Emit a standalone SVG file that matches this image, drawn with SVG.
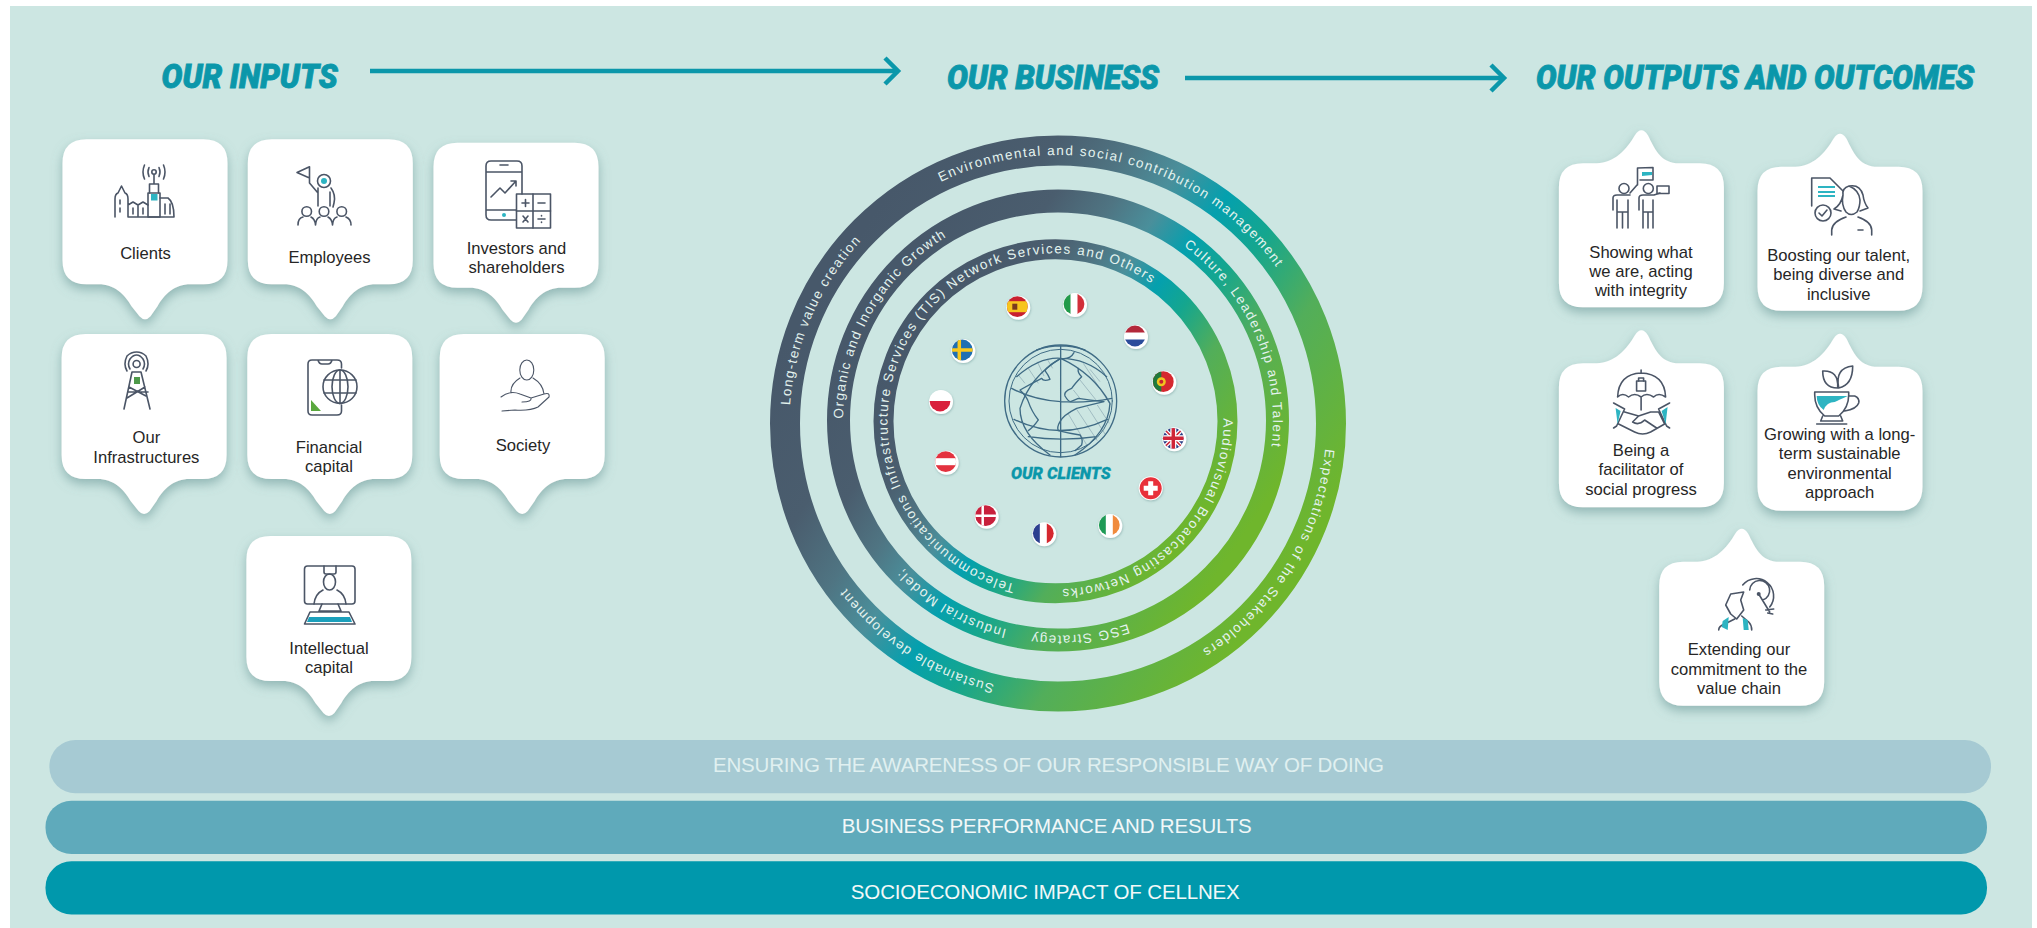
<svg xmlns="http://www.w3.org/2000/svg" width="2037" height="928" viewBox="0 0 2037 928">
<style>
.hd{font-family:"Roboto","Liberation Sans",sans-serif;font-weight:900;font-style:italic;fill:#0b97aa;stroke:#0b97aa;stroke-width:.9}
.hs{stroke-width:.3}
.t{font-family:"Liberation Sans",Arial,sans-serif;font-size:16.6px;fill:#262626;text-anchor:middle}
.b{font-family:"Liberation Sans",Arial,sans-serif;font-size:20.5px;text-anchor:middle}
.r{font-family:"Liberation Sans",Arial,sans-serif;font-size:13.5px;fill:#e4f3ef}
.card{fill:#fff;filter:url(#sh)}
.ic{fill:none;stroke:#4b5566;stroke-width:1.6;stroke-linecap:round;stroke-linejoin:round}
.thin{stroke-width:1.1}
.ac{fill:#2db4c2;stroke:none}
.ring{fill:none;stroke:url(#rg)}
.arrow{fill:none;stroke:#0b97aa;stroke-width:4.5;marker-end:url(#chev)}
.gl{fill:none;stroke:#3f6b85;stroke-width:4;stroke-linecap:round;stroke-linejoin:round}
.gh{fill:none;stroke:#8fabb5;stroke-width:2.2}
.fb{fill:#fff;filter:url(#fs)}
</style>
<defs>
<filter id="sh" x="-20%" y="-20%" width="140%" height="145%"><feDropShadow dx="0" dy="5" stdDeviation="5.5" flood-color="#5f8f8e" flood-opacity=".55"/></filter>
<filter id="fs" x="-40%" y="-40%" width="180%" height="180%"><feDropShadow dx="0.5" dy="1" stdDeviation="1" flood-color="#5f8f8e" flood-opacity=".5"/></filter>
<linearGradient id="rg" x1=".09" y1=".22" x2=".91" y2=".78">
<stop offset="0" stop-color="#47586a"/><stop offset=".2" stop-color="#4a5d6e"/><stop offset=".32" stop-color="#4f7482"/><stop offset=".42" stop-color="#4a8f9b"/><stop offset=".52" stop-color="#04a0ae"/><stop offset=".62" stop-color="#15a68e"/><stop offset=".76" stop-color="#52ae5a"/><stop offset="1" stop-color="#6fb62c"/>
</linearGradient>
<marker id="chev" markerUnits="userSpaceOnUse" markerWidth="24" markerHeight="34" refX="18" refY="16" orient="auto" viewBox="0 0 24 32"><path d="M5 3 L18 16 L5 29" fill="none" stroke="#0b97aa" stroke-width="4.5"/></marker>
<path id="cd" d="M24 0H141Q165 0 165 24V121Q165 145 141 145H128C112 145 102 155 95 167L88 177Q82.5 183 77 177L69 167C62 155 52 145 36 145H24Q0 145 0 121V24Q0 0 24 0Z"/>
<path id="cu" d="M24 0H38C55 0 68-14 76-28Q82.500-38 89-28C96-14 101-2 117 0H141Q165 0 165 24V120Q165 144 141 144H24Q0 144 0 120V24Q0 0 24 0Z"/>
<path id="ro" d="M1058 155A268.5 268.5 0 1 1 1058 692A268.5 268.5 0 1 1 1058 155"/>
<path id="rm" d="M1058 205.5A215 215 0 1 1 1058 635.5A215 215 0 1 1 1058 205.5"/>
<path id="ri" d="M1055.5 253.3A168 168 0 1 1 1055.5 589.3A168 168 0 1 1 1055.5 253.3"/>
<clipPath id="fc"><circle r="10.4"/></clipPath>
</defs>
<rect width="2037" height="928" fill="#fff"/>
<rect x="10" y="6" width="2022" height="922" fill="#cce6e2"/>

<g id="headings">
<text class="hd" x="161.6" y="87.7" font-size="33" textLength="176" lengthAdjust="spacingAndGlyphs">OUR INPUTS</text>
<text class="hd" x="947" y="89" font-size="33" textLength="212" lengthAdjust="spacingAndGlyphs">OUR BUSINESS</text>
<text class="hd" x="1536" y="89" font-size="33" textLength="438" lengthAdjust="spacingAndGlyphs">OUR OUTPUTS AND OUTCOMES</text>
</g>
<g id="connectors">
<line class="arrow" x1="370" y1="71" x2="898" y2="71"/>
<line class="arrow" x1="1185" y1="78" x2="1504" y2="78"/>
</g>

<g id="node-clients"><use class="card" href="#cd" x="62.5" y="139.3"/>
<g class="ic"><circle cx="154" cy="172" r="2.2"/><path d="M149 167.500Q147 172 149 176.500M159 167.500Q161 172 159 176.500M144.500 165Q141.500 172 144.500 179M163.500 165Q166.500 172 163.500 179M154 175V184M149.500 193V184H158.500V193"/><rect x="148" y="193" width="12" height="24"/><path d="M160 198H168Q174 202 174 217M115 217V199Q115 194 118 193L121.500 186L125 193Q128 194 128 199V217M128 217V205L133 202L138 205V217M138 217V205L143 202L148 205M128 217H174M120 200V204M120 208V212M133 208V214M143 208V214M165 204V214M170 204V214"/></g><rect class="ac" x="151" y="194" width="6.500" height="6.500"/>
<text class="t" x="145.500" y="258.700">Clients</text></g>

<g id="node-employees"><use class="card" href="#cd" x="247.800" y="139.300"/>
<g class="ic"><path d="M309.500 166.700L297 172.500L309.500 178ZM309.500 167V183L318 193V206M331 188Q336 195 334 203L333 207M330 192V206M318 193V188"/><circle cx="324" cy="181" r="6.500"/><circle cx="306.700" cy="211.500" r="4.800"/><circle cx="324" cy="211.500" r="4.800"/><circle cx="341.700" cy="211.500" r="4.800"/><path d="M298 225Q298 218 303 217M311 217Q315 219 315.500 225M315.500 225Q316 218 320 217M328 217Q332 219 332.500 225M332.500 225Q333 218 337 217M346 217Q351 219 351 225"/></g><circle class="ac" cx="324" cy="181" r="3"/>
<text class="t" x="329.500" y="263">Employees</text></g>

<g id="node-investors"><use class="card" href="#cd" x="433.500" y="142.700"/>
<g class="ic"><path d="M516 220H491Q486 220 486 215V166Q486 161 491 161H517Q522 161 522 166V194M486 172H522M486 210H516M500 165H508M491 197L500 188L505 193L516 181M511 181H516V186"/><rect x="516.500" y="194" width="34" height="34"/><path d="M533 194V228M516.500 211H550.500M522 203H529M525.500 199.500V206.500M538 203H545M523 216L528 222M528 216L523 222M538 219H545M541.500 215.500V216M541.500 222V222.500"/></g><circle class="ac" cx="504" cy="215" r="2"/>
<text class="t" x="516.500" y="254">Investors and</text><text class="t" x="516.500" y="273.300">shareholders</text></g>

<g id="node-infrastructures"><use class="card" href="#cd" x="61.600" y="334"/>
<g class="ic"><circle cx="136.600" cy="364" r="3.500"/><path d="M130 369Q127 364 130 359Q133 355 136.600 355Q140 355 143 359Q146 364 143 369M127 371Q123 364 127 356Q131 352 136.600 352Q142 352 146 356Q150 364 146 371M132 372L124 409M141 372L150 409M132 372H141M129 387L146 396M145 387L127 398M128 392H148"/></g><rect x="134" y="377" width="6" height="7" fill="#4e9a4a"/>
<text class="t" x="146.400" y="443.300">Our</text><text class="t" x="146.400" y="462.700">Infrastructures</text></g>

<g id="node-financial"><use class="card" href="#cd" x="247.300" y="334"/>
<g class="ic"><path d="M341.500 368V364Q341.500 360 337 360H312Q308 360 308 364V411Q308 415 312 415H337Q341.500 415 341.500 411V405M318 360Q319 364 322 364H328Q331 364 332 360"/><ellipse cx="340" cy="386.700" rx="17" ry="16.700"/><ellipse cx="340" cy="386.700" rx="8" ry="16.700"/><path d="M340 370V403.400M324 380H356M324 393H356"/></g><path d="M311 400L321 411H311Z" fill="#5aa83e"/>
<text class="t" x="329" y="453.300">Financial</text><text class="t" x="329" y="472.300">capital</text></g>

<g id="node-society"><use class="card" href="#cd" x="439.700" y="334"/>
<g class="ic thin"><ellipse cx="526.800" cy="370" rx="7" ry="10"/><path d="M520 378Q510 384 511 393M533 378Q543 384 544 394M501 397Q510 390 520 394L531 398Q532 402 522 402M531 398L544 394Q550 392 549 397L538 407Q530 411 515 410L502 411"/></g>
<text class="t" x="523" y="451.300">Society</text></g>

<g id="node-intellectual"><use class="card" href="#cd" x="246.400" y="536"/>
<g class="ic"><rect x="304.500" y="566" width="50.500" height="38" rx="3"/><path d="M324 566V572Q324 574 326 574H334Q336 574 336 572V566M314 604Q315 594 323 590M337 590Q345 594 346 604M322 604L319 611H341L338 604M310 612H349L355 624H304.500Z"/><ellipse cx="329.500" cy="582" rx="6" ry="8"/></g><path d="M309 617H350L352 622H307Z" fill="#1ba0bc"/>
<text class="t" x="329" y="654">Intellectual</text><text class="t" x="329" y="673.300">capital</text></g>

<g id="business">
<circle class="ring" cx="1058" cy="423.500" r="273" stroke-width="30"/>
<circle class="ring" cx="1058" cy="420.500" r="219.500" stroke-width="23"/>
<circle class="ring" cx="1055.500" cy="421.300" r="172" stroke-width="20"/>
<text class="r" transform="rotate(273.900 1058 423.500)"><textPath href="#ro" textLength="182">Long-term value creation</textPath></text>
<text class="r" transform="rotate(334.100 1058 423.500)"><textPath href="#ro" textLength="376">Environmental and social contribution management</textPath></text>
<text class="r" transform="rotate(95.400 1058 423.500)"><textPath href="#ro" textLength="244">Expectations of the Stakeholders</textPath></text>
<text class="r" transform="rotate(193.700 1058 423.500)"><textPath href="#ro" textLength="180">Sustainable development</textPath></text>
<text class="r" transform="rotate(270.500 1058 420.500)"><textPath href="#rm" textLength="218">Organic and Inorganic Growth</textPath></text>
<text class="r" transform="rotate(35.800 1058 420.500)"><textPath href="#rm" textLength="229">Culture, Leadership and Talent</textPath></text>
<text class="r" transform="rotate(161.100 1058 420.500)"><textPath href="#rm" textLength="97">ESG Strategy</textPath></text>
<text class="r" transform="rotate(193.800 1058 420.500)"><textPath href="#rm" textLength="122">Industrial Model;</textPath></text>
<text class="r" transform="rotate(247 1055.500 421.300)"><textPath href="#ri" textLength="433">Infrastructure Services (TIS) Network Services and Others</textPath></text>
<text class="r" transform="rotate(89 1055.500 421.300)"><textPath href="#ri" textLength="260">Audiovisual Broadcasting Networks</textPath></text>
<text class="r" transform="rotate(194 1055.500 421.300)"><textPath href="#ri" textLength="147">Telecommunications</textPath></text>
</g>

<g id="globe">
<g transform="translate(1000 340) scale(.3333)">
<g class="gh"><path d="M55 105L75 130M85 85L115 130M112 65L132 108M142 58L158 85M250 70L332 195M240 120L288 180M220 150L240 175M205 222L262 318M230 208L292 302M262 200L315 282M292 195L328 250M270 88L300 125"/></g>
<g class="gl"><circle cx="182" cy="183" r="168"/><circle cx="182" cy="183" r="155" stroke-width="3"/>
<path d="M182 18V350M182 55Q90 110 60 205Q60 280 150 345M182 55Q280 100 330 190Q325 280 225 345M50 110Q120 50 182 55Q260 55 320 110M35 145Q100 180 182 185Q260 190 335 175M42 238Q180 305 322 238M85 290Q182 305 290 290M110 30Q182 5 255 30"/>
<path d="M182 55Q140 80 135 92Q145 105 150 118Q130 125 125 115Q95 130 60 150Q80 170 85 185Q95 215 115 240Q100 262 85 272M222 38Q210 60 182 55M235 85Q232 98 245 110Q225 130 215 145Q190 155 195 168Q205 185 212 185L235 175Q270 180 312 185Q270 195 230 205Q190 225 180 245Q170 262 175 272Q205 280 240 285Q250 300 245 315L225 332"/></g>
</g>
<text class="hd hs" x="1011" y="479.300" font-size="16.500" textLength="99.700" lengthAdjust="spacingAndGlyphs">OUR CLIENTS</text>
</g>

<g id="flags">
<g id="flag-spain" transform="translate(1017.300 306.700)"><circle class="fb" cx="1" cy="1" r="12"/><g clip-path="url(#fc)"><rect x="-11" y="-11" width="22" height="22" fill="#c8202f"/><rect x="-11" y="-5.500" width="22" height="11" fill="#f7c51e"/><rect x="-5" y="-3" width="5" height="6" fill="#7a3a1e"/></g></g>
<g id="flag-italy" transform="translate(1074 304)"><circle class="fb" cx="1" cy="1" r="12"/><g clip-path="url(#fc)"><rect x="-11" y="-11" width="22" height="22" fill="#fff"/><rect x="-11" y="-11" width="7.500" height="22" fill="#229a4a"/><rect x="3.500" y="-11" width="7.500" height="22" fill="#d22f3a"/></g></g>
<g id="flag-netherlands" transform="translate(1135 336)"><circle class="fb" cx="1" cy="1" r="12"/><g clip-path="url(#fc)"><rect x="-11" y="-11" width="22" height="22" fill="#fff"/><rect x="-11" y="-11" width="22" height="7.500" fill="#b3283a"/><rect x="-11" y="3.500" width="22" height="7.500" fill="#2b4c9b"/></g></g>
<g id="flag-portugal" transform="translate(1163.300 381.700)"><circle class="fb" cx="1" cy="1" r="12"/><g clip-path="url(#fc)"><rect x="-11" y="-11" width="22" height="22" fill="#d5282f"/><rect x="-11" y="-11" width="9" height="22" fill="#1f7a3c"/><circle cx="-2" cy="0" r="4.500" fill="#f0c51f"/><circle cx="-2" cy="0" r="2" fill="#c8202f"/></g></g>
<g id="flag-uk" transform="translate(1173.300 438.300)"><circle class="fb" cx="1" cy="1" r="12"/><g clip-path="url(#fc)"><rect x="-11" y="-11" width="22" height="22" fill="#2b3f86"/><path d="M-11-11L11 11M11-11L-11 11" stroke="#fff" stroke-width="4"/><path d="M-11-11L11 11M11-11L-11 11" stroke="#cf2438" stroke-width="1.500"/><path d="M0-11V11M-11 0H11" stroke="#fff" stroke-width="6"/><path d="M0-11V11M-11 0H11" stroke="#cf2438" stroke-width="3.500"/></g></g>
<g id="flag-switzerland" transform="translate(1150.700 488.300)"><circle class="fb" cx="0" cy="0" r="12"/><circle r="11" fill="#e8303a"/><path d="M-2.500-7H2.500V-2.500H7V2.500H2.500V7H-2.500V2.500H-7V-2.500H-2.500Z" fill="#fff"/></g>
<g id="flag-ireland" transform="translate(1109.300 525)"><circle class="fb" cx="1" cy="1" r="12"/><g clip-path="url(#fc)"><rect x="-11" y="-11" width="22" height="22" fill="#fff"/><rect x="-11" y="-11" width="7.500" height="22" fill="#1f9a56"/><rect x="3.500" y="-11" width="7.500" height="22" fill="#f08a3c"/></g></g>
<g id="flag-france" transform="translate(1043.300 533.300)"><circle class="fb" cx="1" cy="1" r="12"/><g clip-path="url(#fc)"><rect x="-11" y="-11" width="22" height="22" fill="#fff"/><rect x="-11" y="-11" width="7.500" height="22" fill="#2b3f8f"/><rect x="3.500" y="-11" width="7.500" height="22" fill="#d5282f"/></g></g>
<g id="flag-denmark" transform="translate(985.700 515.700)"><circle class="fb" cx="1" cy="1" r="12"/><g clip-path="url(#fc)"><rect x="-11" y="-11" width="22" height="22" fill="#c8203c"/><path d="M-3-11V11M-11 0H11" stroke="#fff" stroke-width="2.500"/></g></g>
<g id="flag-austria" transform="translate(945.700 461.700)"><circle class="fb" cx="1" cy="1" r="12"/><g clip-path="url(#fc)"><rect x="-11" y="-11" width="22" height="22" fill="#e3323f"/><rect x="-11" y="-3.500" width="22" height="7" fill="#fff"/></g></g>
<g id="flag-poland" transform="translate(940 401)"><circle class="fb" cx="1" cy="1" r="12"/><g clip-path="url(#fc)"><rect x="-11" y="-11" width="22" height="11" fill="#fff"/><rect x="-11" y="0" width="22" height="11" fill="#d9203c"/></g></g>
<g id="flag-sweden" transform="translate(962.300 350)"><circle class="fb" cx="1" cy="1" r="12"/><g clip-path="url(#fc)"><rect x="-11" y="-11" width="22" height="22" fill="#1f6fb2"/><path d="M-3-11V11M-11 0H11" stroke="#f8c81e" stroke-width="3.500"/></g></g>
</g>

<g id="node-showing"><use class="card" href="#cu" x="1558.900" y="163.300"/>
<g class="ic"><circle cx="1624" cy="188.500" r="5"/><circle cx="1648.300" cy="188.500" r="5"/><path d="M1637.500 185V168L1653 167.500V180H1640M1637 185L1630 193M1613 210V198Q1613 195 1617 195H1630M1617 200V228M1622.500 212V228M1628 200V228M1617 212H1628M1639 210V198Q1639 195 1643 195H1654L1660 193M1643 200V228M1648 212V228M1653 200V228M1643 212H1653"/><rect x="1657" y="186" width="12" height="7.500"/></g><path d="M1642 172H1652V175L1642 176Z" class="ac"/>
<text class="t" x="1641" y="257.700">Showing what</text><text class="t" x="1641" y="277.300">we are, acting</text><text class="t" x="1641" y="296.300">with integrity</text></g>

<g id="node-boosting"><use class="card" href="#cu" x="1757.500" y="166.700"/>
<g class="ic"><path d="M1811.700 206V178H1830L1843 191"/><circle cx="1823" cy="213" r="8"/><path d="M1819 213L1822 216L1827 210M1849 186Q1842 188 1843 195Q1841 205 1846 212Q1851 217 1857 212Q1860 207 1860 200Q1859 190 1849 186ZM1849 186Q1860 184 1863 195Q1864 203 1868 208L1860 211M1843 195Q1841 205 1834 209L1841 211M1831.700 235V230Q1832 222 1846 217M1858 217Q1871.700 222 1871.700 230V235M1858 230H1863"/></g><path d="M1818 187H1835M1818 192H1835M1818 196H1835" stroke="#2db4c2" stroke-width="2.200" fill="none"/>
<text class="t" x="1838.700" y="261">Boosting our talent,</text><text class="t" x="1838.700" y="280.300">being diverse and</text><text class="t" x="1838.700" y="299.700">inclusive</text></g>

<g id="node-being"><use class="card" href="#cu" x="1558.900" y="363.300"/>
<g transform="translate(-1.400 0)"><g class="ic"><path d="M1642.500 370V373M1619 397Q1620 374 1642.500 373Q1666 374 1667 397Q1660 392 1655 397Q1648 392 1642.500 397Q1636 392 1630 397Q1624 392 1619 397ZM1642.500 397V410"/><rect x="1638" y="381" width="9" height="10"/><path d="M1640 381V378H1645V381M1615 403L1626 409L1618 426L1615 428M1671 403L1660 409L1668 426L1671 428M1626 412L1640 416L1652 412H1660L1666 424L1652 432Q1644 436 1636 432L1620 424M1640 416L1634 422Q1640 426 1646 420L1658 428"/></g><path d="M1617 408L1622 411L1619 424ZM1669 407L1663 411L1667 424Z" class="ac"/></g>
<text class="t" x="1641" y="456">Being a</text><text class="t" x="1641" y="475.300">facilitator of</text><text class="t" x="1641" y="494.700">social progress</text></g>

<g id="node-growing"><use class="card" href="#cu" x="1757.500" y="366.700"/>
<g transform="translate(-3.300 0)"><g class="ic"><path d="M1841 388Q1826 388 1826 371Q1842 370 1841 388ZM1842 388Q1856 385 1856 366Q1838 368 1842 388M1818 392H1852V395Q1852 408 1842 416H1828Q1818 408 1818 395ZM1852 396H1858Q1863 398 1862 403Q1860 409 1848 411M1826 416L1824 421H1846L1844 416M1820 424H1850"/></g><path d="M1820 396H1851Q1842 400 1838 402Q1830 402 1827 410Q1820 405 1820 396Z" class="ac"/></g>
<text class="t" x="1839.700" y="440">Growing with a long-</text><text class="t" x="1839.700" y="459.300">term sustainable</text><text class="t" x="1839.700" y="479">environmental</text><text class="t" x="1839.700" y="498.300">approach</text></g>

<g id="node-extending"><use class="card" href="#cu" x="1659.200" y="561.700"/>
<g transform="translate(-2.300 0)"><g class="ic"><path d="M1745 585A16 16 0 1 1 1772 607M1752 590A10 10 0 1 1 1765 600M1761 594L1772 612M1768 610L1776 609M1770 613L1775 614M1733 594L1746 592L1743 600L1746 610L1739 619L1733 614L1728 605ZM1737 619L1727 624Q1721 626 1721 630M1744 616L1751 622Q1754 625 1754 630"/></g><circle cx="1761" cy="594" r="2" fill="#4b5566"/><path d="M1724 627L1725 621L1731 617L1730 630ZM1751 630L1750 620L1745 618L1746 630Z" class="ac"/></g>
<text class="t" x="1739" y="655.300">Extending our</text><text class="t" x="1739" y="674.700">commitment to the</text><text class="t" x="1739" y="694">value chain</text></g>

<g id="bars">
<g id="bar-awareness"><rect x="49.400" y="740" width="1941.600" height="53.300" rx="26" fill="#a6cad3"/><text class="b" x="1048.500" y="772.300" fill="#e0f0f0" textLength="671">ENSURING THE AWARENESS OF OUR RESPONSIBLE WAY OF DOING</text></g>
<g id="bar-performance"><rect x="45.500" y="800.700" width="1941.500" height="53.300" rx="26" fill="#5faabb"/><text class="b" x="1046.800" y="833" fill="#f2f8f8" textLength="410">BUSINESS PERFORMANCE AND RESULTS</text></g>
<g id="bar-impact"><rect x="45.500" y="861.300" width="1941.500" height="53.300" rx="26" fill="#0098ac"/><text class="b" x="1045.300" y="899.300" fill="#f2f8f8" textLength="389">SOCIOECONOMIC IMPACT OF CELLNEX</text></g>
</g>
</svg>
